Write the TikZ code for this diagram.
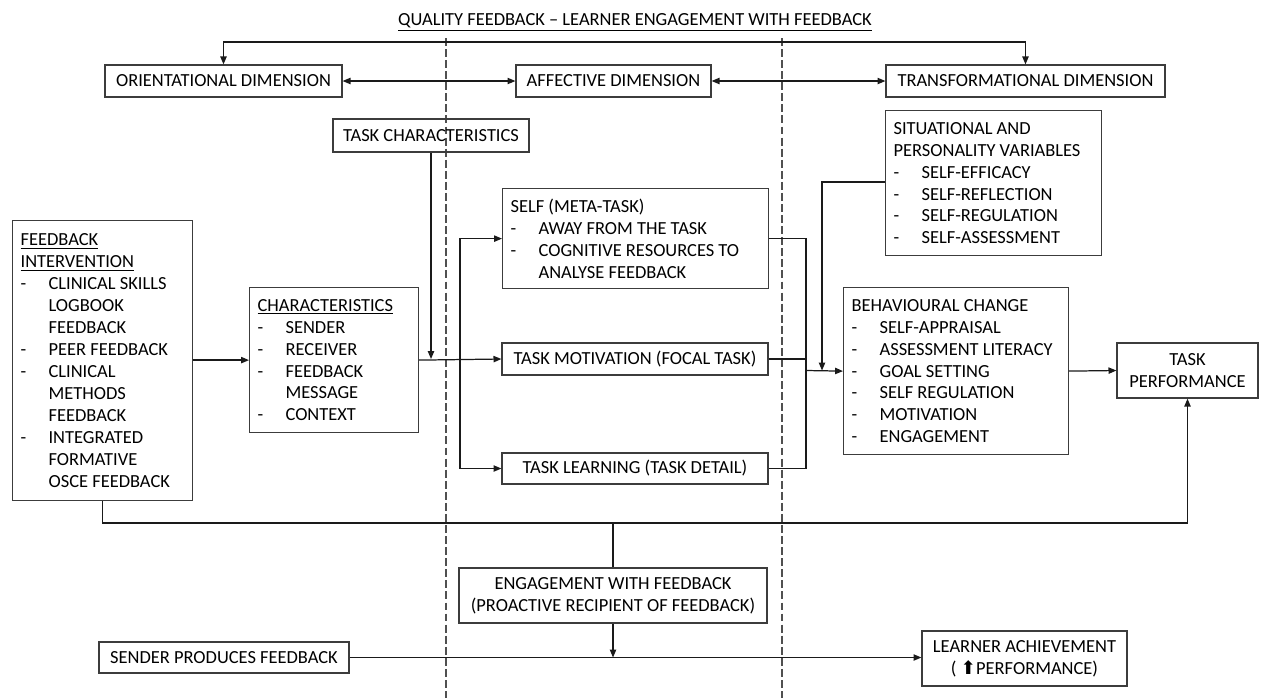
\documentclass[tikz,border=0pt]{standalone}
\usepackage{fontspec}
\setmainfont{Carlito}
\newfontfamily\arrowfont{DejaVu Sans}
\usetikzlibrary{arrows.meta, calc}
\definecolor{fbline}{HTML}{1A1A1A}
\definecolor{fbbox}{HTML}{3C3C3C}
\definecolor{fbdash}{HTML}{505050}
\newcommand{\dsh}{\makebox[0.56cm][l]{-}}
\newcommand{\ind}{\hspace*{0.56cm}}

\begin{document}
\begin{tikzpicture}[x=0.02cm, y=-0.02cm, font=\fontsize{10.5pt}{12.5pt}\selectfont,
    >={Triangle[length=4.5pt,width=3.6pt]},
    box/.style={draw=fbbox, line width=0.7pt, inner xsep=0.16cm, inner ysep=0.1cm},
    lst/.style={box, align=flush left, anchor=north west},
    lbl/.style={box, align=center},
    lnk/.style={draw=fbline, line width=0.7pt},
    dvd/.style={draw=fbdash, line width=0.6pt, dash pattern=on 4.5pt off 1.8pt}]
  \useasboundingbox (0,0) rectangle (1261,698);

  \draw[dvd] (446,38) -- (446,698);
  \draw[dvd] (782,38) -- (782,698);

  \node (ttl) at (635,22) {\underline{QUALITY FEEDBACK – LEARNER ENGAGEMENT WITH FEEDBACK}};

  \node[lbl, minimum width=4.74cm, minimum height=0.64cm] (ori) at (223.5,81) {ORIENTATIONAL DIMENSION};
  \node[lbl, minimum width=3.9cm, minimum height=0.64cm] (aff) at (613.5,81) {AFFECTIVE DIMENSION};
  \node[lbl, minimum width=5.58cm, minimum height=0.64cm] (tra) at (1025.5,81) {TRANSFORMATIONAL DIMENSION};
  \node[lbl, minimum width=3.92cm, minimum height=0.66cm] (tch) at (431,135.5) {TASK CHARACTERISTICS};

  \node[lst, text width=3.28cm, minimum height=5.6cm] (fbi) at (12,220)
    {\underline{FEEDBACK}\\
     \underline{INTERVENTION}\\
     \dsh CLINICAL SKILLS\\ \ind LOGBOOK\\ \ind FEEDBACK\\
     \dsh PEER FEEDBACK\\
     \dsh CLINICAL\\ \ind METHODS\\ \ind FEEDBACK\\
     \dsh INTEGRATED\\ \ind FORMATIVE\\ \ind OSCE FEEDBACK};
  \node[lst, text width=3.06cm, minimum height=2.9cm] (chr) at (249,287)
    {\underline{CHARACTERISTICS}\\
     \dsh SENDER\\
     \dsh RECEIVER\\
     \dsh FEEDBACK\\ \ind MESSAGE\\
     \dsh CONTEXT};
  \node[lst, text width=5.0cm, minimum height=2.0cm] (slf) at (502,188)
    {SELF (META-TASK)\\
     \dsh AWAY FROM THE TASK\\
     \dsh COGNITIVE RESOURCES TO\\ \ind ANALYSE FEEDBACK};
  \node[lbl, minimum width=5.32cm, minimum height=0.64cm] (mot) at (635,359) {TASK MOTIVATION (FOCAL TASK)};
  \node[lbl, minimum width=5.32cm, minimum height=0.62cm] (lrn) at (635,468.5) {TASK LEARNING (TASK DETAIL)};
  \node[lst, text width=4.0cm, minimum height=2.9cm] (sit) at (885,110)
    {SITUATIONAL AND\\
     PERSONALITY VARIABLES\\
     \dsh SELF-EFFICACY\\
     \dsh SELF-REFLECTION\\
     \dsh SELF-REGULATION\\
     \dsh SELF-ASSESSMENT};
  \node[lst, text width=4.18cm, minimum height=3.34cm] (beh) at (843,287)
    {BEHAVIOURAL CHANGE\\
     \dsh SELF-APPRAISAL\\
     \dsh ASSESSMENT LITERACY\\
     \dsh GOAL SETTING\\
     \dsh SELF REGULATION\\
     \dsh MOTIVATION\\
     \dsh ENGAGEMENT};
  \node[lbl, minimum width=2.82cm, minimum height=1.1cm] (prf) at (1187.5,370.5) {TASK\\PERFORMANCE};

  \node[lbl, minimum width=6.16cm, minimum height=1.1cm] (eng) at (613,595.5)
    {ENGAGEMENT WITH FEEDBACK\\(PROACTIVE RECIPIENT OF FEEDBACK)};
  \node[lbl, minimum width=5.0cm, minimum height=0.62cm] (snd) at (224,657.5) {SENDER PRODUCES FEEDBACK};
  \node[lbl, minimum width=4.1cm, minimum height=1.1cm] (ach) at (1024.5,658.5)
    {LEARNER ACHIEVEMENT\\( {\arrowfont ⬆}PERFORMANCE)};

  \coordinate (topc) at (635,42);
  \coordinate (br) at (460,359);
  \coordinate (col) at (806,370.5);
  \coordinate (sitk) at (822,182);
  \coordinate (sitin) at (822,370.5);
  \coordinate (bot) at (613,523);

  \draw[lnk, <->] (ori.north) |- (topc) -| (tra.north);
  \draw[lnk, <->] (ori.east) -- (aff.west);
  \draw[lnk, <->] (aff.east) -- (tra.west);

  \draw[lnk, ->] (fbi.east |- chr.west) -- (chr.west);
  \draw[lnk, ->] (chr.east) -- (mot.west);
  \draw[lnk, ->] (tch.south) -- (tch.south |- mot.west);
  \draw[lnk, ->] (br) |- (slf.west);
  \draw[lnk, ->] (br) |- (lrn.west);

  \draw[lnk] (slf.east) -| (col |- lrn.east) -- (lrn.east);
  \draw[lnk] (mot.east) -- (mot.east -| col);
  \draw[lnk, ->] (col) -- (beh.west);
  \draw[lnk, ->] (sitk -| sit.west) -| (sitin);
  \draw[lnk, ->] (beh.east) -- (prf.west);

  \draw[lnk, ->] (fbi.south) |- (bot) -| (prf.south);
  \draw[lnk] (bot) -- (eng.north);
  \draw[lnk, ->] (eng.south) -- (eng.south |- snd.east);
  \draw[lnk, ->] (snd.east) -- (snd.east -| ach.west);
\end{tikzpicture}
\end{document}
